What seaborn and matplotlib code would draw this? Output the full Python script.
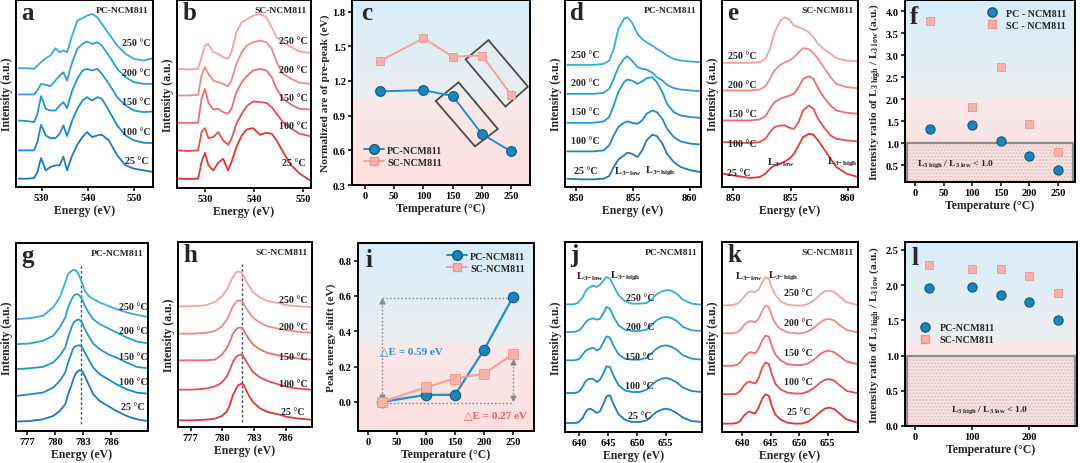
import numpy as np
import matplotlib
matplotlib.use("Agg")
import matplotlib.pyplot as plt
import matplotlib.transforms as mtrans
from matplotlib.lines import Line2D
from matplotlib.patches import Polygon, Rectangle
import seaborn as sns

# ---------------------------------------------------------------- data
temps = [25, 100, 150, 200, 250]
temp_labels = ['25 °C', '100 °C', '150 °C', '200 °C', '250 °C']

# (a) O K-edge, PC-NCM811 (stacked intensity, a.u.), rows = temps
o_pc_energy = [525.1, 526.9, 528.4, 529.1, 529.9, 530.9, 531.9, 533.0, 533.9, 534.7, 535.5, 536.6,
               537.7, 538.8, 539.8, 540.9, 542.0, 543.0, 544.5, 546.3, 548.1, 549.9, 552.0, 554.0]
o_pc_int = [
    [25, 25, 27, 45, 87, 50, 60, 65, 65, 91, 50, 95, 127, 150, 165, 150, 155, 157, 140, 95, 65, 55, 50, 45],
    [110, 110, 110, 135, 187, 155, 147, 147, 160, 185, 153, 200, 235, 260, 270, 260, 270, 265, 230, 185, 155, 140, 133, 132],
    [200, 198, 195, 220, 273, 235, 230, 230, 245, 255, 237, 290, 325, 350, 355, 350, 355, 340, 310, 270, 245, 230, 225, 227],
    [278, 278, 278, 290, 310, 307, 303, 320, 335, 345, 320, 375, 415, 430, 437, 430, 435, 425, 395, 355, 330, 315, 310, 310],
    [357, 357, 355, 365, 375, 387, 395, 417, 405, 410, 405, 455, 500, 507, 515, 520, 510, 490, 460, 425, 400, 385, 380, 387],
]
# (b) O K-edge, SC-NCM811
o_sc_energy = [524.6, 526.6, 528.6, 529.3, 530.0, 530.7, 531.7, 532.7, 533.7, 534.7, 535.4, 536.4,
               537.5, 538.5, 539.8, 541.2, 542.5, 543.6, 544.6, 545.9, 547.6, 549.3, 551.4]
o_sc_int = [
    [28, 27, 28, 78, 106, 68, 53, 76, 88, 53, 78, 123, 158, 176, 180, 160, 166, 163, 143, 108, 68, 43, 23],
    [113, 111, 113, 168, 180, 150, 153, 168, 143, 130, 148, 193, 223, 246, 260, 258, 256, 243, 223, 198, 178, 163, 156],
    [196, 196, 196, 268, 298, 256, 236, 238, 228, 223, 238, 288, 318, 336, 353, 358, 353, 333, 298, 268, 250, 238, 236],
    [278, 278, 280, 338, 363, 343, 323, 318, 313, 306, 323, 373, 408, 428, 438, 443, 438, 418, 378, 343, 328, 316, 313],
    [358, 356, 358, 393, 428, 433, 408, 403, 393, 388, 408, 468, 498, 506, 518, 523, 513, 483, 453, 438, 423, 410, 406],
]
# (c) normalized pre-peak area
pc_prepeak = [1.11, 1.12, 1.07, 0.74, 0.59]
sc_prepeak = [1.37, 1.57, 1.41, 1.42, 1.08]
box1_corners = [(172, 1.386), (211, 1.553), (278.5, 1.151), (240, 0.978)]
box2_corners = [(121, 1.027), (160, 1.188), (227, 0.785), (188, 0.634)]

# (d) Ni L-edge, PC
ni_pc_energy = [849.2, 850.4, 851.5, 852.4, 852.9, 853.3, 853.7, 854.2, 854.5, 854.9, 855.4,
                855.8, 856.2, 856.7, 857.1, 857.6, 858.0, 858.6, 859.2, 860.1, 860.9]
ni_pc_int = [
    [25, 23, 23, 25, 33, 60, 82, 95, 103, 100, 90, 110, 140, 157, 153, 130, 100, 75, 60, 50, 45],
    [107, 107, 107, 110, 125, 155, 180, 193, 197, 193, 190, 200, 220, 230, 225, 205, 175, 150, 137, 130, 128],
    [193, 193, 193, 197, 210, 245, 285, 315, 323, 320, 310, 317, 327, 330, 315, 285, 250, 225, 215, 210, 208],
    [280, 280, 280, 283, 295, 325, 360, 385, 393, 380, 360, 355, 353, 343, 330, 320, 307, 297, 293, 290, 288],
    [367, 367, 367, 370, 380, 415, 475, 505, 510, 495, 460, 445, 435, 425, 415, 405, 395, 385, 380, 377, 375],
]
# (e) Ni L-edge, SC
ni_sc_energy = [849.1, 850.3, 851.5, 852.3, 852.8, 853.2, 853.6, 854.1, 854.5, 854.9, 855.3,
                855.7, 856.1, 856.6, 857.0, 857.4, 857.9, 858.5, 859.0, 859.9, 860.9]
ni_sc_int = [
    [40, 33, 27, 30, 40, 55, 65, 70, 77, 85, 100, 125, 150, 160, 157, 140, 115, 85, 60, 40, 30],
    [135, 133, 132, 135, 145, 165, 180, 185, 185, 178, 175, 195, 230, 245, 235, 205, 180, 155, 145, 140, 137],
    [200, 200, 200, 203, 213, 235, 255, 265, 270, 275, 280, 300, 325, 333, 325, 297, 270, 245, 230, 223, 220],
    [290, 290, 290, 293, 303, 325, 350, 367, 375, 380, 390, 405, 417, 415, 403, 385, 360, 330, 310, 300, 297],
    [373, 373, 373, 375, 385, 415, 465, 500, 510, 503, 485, 480, 475, 465, 450, 430, 415, 400, 387, 380, 378],
]
# (f) Ni L3 high/low ratio
pc_ni_ratio = [1.33, 1.41, 1.04, 0.70, 0.40]
sc_ni_ratio = [3.77, 1.83, 2.72, 1.43, 0.80]

# (g) Co L-edge, PC
co_pc_energy = [775.8, 777.3, 778.7, 779.8, 780.5, 781.1, 781.4, 781.8, 782.0, 782.3, 782.6,
                782.9, 783.2, 783.6, 784.1, 784.8, 785.7, 786.6, 787.7, 788.8, 789.9]
co_pc_int = [
    [28, 30, 35, 45, 60, 80, 110, 140, 158, 175, 182, 180, 165, 140, 110, 90, 75, 60, 45, 35, 30],
    [105, 110, 115, 130, 150, 175, 205, 235, 250, 255, 257, 252, 235, 215, 190, 170, 155, 140, 125, 115, 112],
    [185, 188, 192, 205, 225, 250, 280, 312, 325, 332, 334, 325, 305, 285, 262, 245, 230, 220, 205, 192, 188],
    [260, 262, 270, 285, 310, 340, 370, 395, 405, 410, 407, 395, 375, 355, 335, 320, 308, 295, 280, 268, 263],
    [335, 338, 345, 370, 400, 445, 470, 480, 483, 480, 465, 445, 420, 405, 395, 385, 375, 365, 355, 348, 342],
]
# (h) Co L-edge, SC
co_sc_energy = [775.8, 777.1, 778.4, 779.3, 779.9, 780.4, 780.7, 781.0, 781.3, 781.5, 781.8,
                782.0, 782.2, 782.5, 782.9, 783.6, 784.3, 785.3, 786.2, 787.3, 788.4]
co_sc_int = [
    [20, 20, 22, 25, 32, 45, 65, 95, 115, 125, 130, 128, 115, 95, 75, 55, 45, 38, 30, 25, 22],
    [112, 112, 115, 122, 132, 150, 170, 195, 210, 215, 217, 212, 200, 185, 165, 148, 138, 128, 120, 115, 112],
    [200, 200, 200, 202, 215, 235, 255, 280, 292, 298, 298, 292, 280, 265, 248, 232, 222, 215, 210, 205, 202],
    [280, 280, 282, 288, 300, 320, 340, 362, 375, 380, 378, 372, 360, 345, 328, 312, 302, 295, 290, 285, 283],
    [362, 362, 365, 375, 390, 410, 430, 450, 463, 467, 464, 455, 440, 425, 405, 388, 378, 372, 365, 362, 360],
]
co_pc_ref = 782.8
co_sc_ref = 781.9

# (i) peak energy shift
pc_shift = [0.0, 0.04, 0.04, 0.295, 0.595]
sc_shift = [0.0, 0.083, 0.132, 0.16, 0.27]

# (j) Mn L-edge, PC
mn_pc_energy = [637.7, 639.0, 639.7, 640.1, 640.6, 641.0, 641.4, 641.9, 642.4, 643.0, 643.6, 644.2,
                644.7, 645.3, 645.9, 646.8, 647.9, 649.1, 650.5, 651.7, 652.5, 653.4, 654.3, 655.0,
                655.8, 656.9, 658.0, 659.5, 661.2]
mn_pc_int = [
    [27, 27, 28, 33, 43, 57, 67, 70, 65, 57, 63, 85, 107, 110, 85, 53, 37, 30, 30, 35, 47, 60, 67, 70, 67, 57, 43, 33, 30],
    [117, 117, 119, 125, 137, 150, 157, 160, 159, 150, 157, 177, 197, 195, 170, 140, 125, 120, 120, 127, 140, 153, 160, 162, 159, 149, 133, 123, 120],
    [215, 215, 217, 222, 233, 242, 247, 250, 253, 245, 250, 270, 287, 283, 260, 233, 220, 217, 217, 223, 235, 250, 258, 260, 257, 247, 230, 220, 217],
    [300, 300, 303, 307, 317, 327, 335, 339, 341, 337, 340, 357, 375, 370, 347, 320, 307, 303, 303, 307, 320, 335, 343, 345, 343, 333, 315, 305, 303],
    [383, 383, 387, 395, 405, 420, 430, 435, 439, 435, 442, 455, 465, 460, 440, 410, 393, 385, 385, 387, 397, 413, 422, 425, 425, 415, 397, 385, 382],
]
# (k) Mn L-edge, SC
mn_sc_energy = [636.6, 638.3, 639.1, 639.7, 640.3, 640.9, 641.3, 641.7, 642.3, 642.9, 643.5, 644.1,
                644.7, 645.2, 645.8, 646.7, 647.9, 649.3, 650.5, 651.6, 652.7, 653.7, 654.5, 655.3,
                656.2, 657.2, 658.3, 660.2]
mn_sc_int = [
    [25, 25, 27, 33, 48, 58, 61, 58, 55, 73, 98, 113, 108, 78, 53, 38, 28, 25, 25, 31, 45, 60, 70, 73, 68, 53, 38, 28],
    [113, 113, 115, 123, 138, 148, 151, 148, 145, 161, 191, 208, 203, 173, 145, 128, 118, 115, 115, 121, 133, 148, 156, 158, 153, 138, 123, 116],
    [198, 198, 201, 208, 223, 233, 238, 238, 235, 248, 273, 288, 285, 258, 233, 215, 203, 200, 200, 205, 218, 233, 241, 243, 238, 225, 211, 203],
    [295, 295, 298, 305, 318, 328, 331, 331, 328, 338, 361, 378, 373, 348, 325, 308, 298, 295, 295, 301, 313, 328, 336, 338, 333, 318, 305, 298],
    [378, 380, 383, 391, 403, 415, 420, 420, 418, 425, 445, 463, 458, 433, 411, 391, 381, 378, 378, 383, 395, 411, 421, 423, 418, 403, 388, 380],
]
# (l) Mn L3 high/low ratio
pc_mn_ratio = [1.96, 1.97, 1.865, 1.757, 1.50]
sc_mn_ratio = [2.28, 2.23, 2.23, 2.13, 1.885]

# ---------------------------------------------------------------- style
sns.set_theme(style="ticks")
plt.rcParams['font.family'] = ['Liberation Serif', 'DejaVu Serif']
plt.rcParams['font.weight'] = 'bold'
plt.rcParams['axes.labelweight'] = 'bold'
plt.rcParams['mathtext.fontset'] = 'custom'
plt.rcParams['mathtext.rm'] = 'Liberation Serif:bold'
plt.rcParams['mathtext.bf'] = 'Liberation Serif:bold'
plt.rcParams['mathtext.it'] = 'Liberation Serif:bold:italic'
plt.rcParams['axes.linewidth'] = 1.4
plt.rcParams['axes.edgecolor'] = 'black'

PC_COLORS = ['#1a7cc4', '#1b8bd2', '#1f98da', '#27a2e0', '#36ace6']
SC_COLORS = ['#e6343a', '#ec4d50', '#f06c6c', '#f48888', '#f6a2a2']
PC_MARK, PC_EDGE, PC_LINE = '#1886ba', '#0b5a82', '#1a8fd6'
SC_MARK, SC_EDGE, SC_LINE = '#f7b2ac', '#f0958d', '#f4a09a'

fig = plt.figure(figsize=(10.8, 4.64), dpi=100)


def add_ax(l, t, r, b):
    return fig.add_axes([l / 1080, 1 - b / 464, (r - l) / 1080, (b - t) / 464])


def ticks(ax):
    ax.tick_params(axis='both', labelsize=7.5, length=3, width=1.1, direction='out', pad=1.5, colors='black')


def letter(ax, s, x=0.04, y=0.9):
    ax.text(x, y, s, transform=ax.transAxes, fontsize=18, fontweight='bold', va='baseline', ha='left', zorder=10)


def spectra(ax, energy, curves, colors, labels, lab_x, lab_y, xlim, ylim, xticks, tag, let):
    for vals, col in zip(curves, colors):
        sns.lineplot(x=energy, y=vals, ax=ax, color=col, lw=1.3, sort=False, estimator=None)
    for lab, lx, ly in zip(labels, lab_x, lab_y):
        ax.text(lx, ly, lab, fontsize=7.2, ha='center', va='center')
    ax.set_xlim(*xlim)
    ax.set_ylim(*ylim)
    ax.set_xticks(xticks)
    ax.set_yticks([])
    ticks(ax)
    ax.set_xlabel('Energy (eV)', fontsize=8.5, labelpad=1)
    ax.set_ylabel('Intensity (a.u.)', fontsize=8.5, labelpad=2)
    ax.text(0.965, 0.935, tag, transform=ax.transAxes, fontsize=6.8, ha='right', va='baseline')
    letter(ax, let)


def gradient_bg(ax, split=0.46):
    n = 300
    ys = np.linspace(1, 0, n)
    top = np.array([0.84, 0.93, 0.98]); mid_hi = np.array([0.93, 0.93, 0.94])
    mid_lo = np.array([0.98, 0.91, 0.915]); bot = np.array([0.99, 0.875, 0.875])
    img = np.zeros((n, 1, 3))
    for i, yy in enumerate(ys):
        if yy >= split:
            t = (1 - yy) / (1 - split)
            img[i, 0] = top * (1 - t) + mid_hi * t
        else:
            t = (split - yy) / split
            img[i, 0] = mid_lo * (1 - t) + bot * t
    ax.imshow(img, extent=[0, 1, 0, 1], transform=ax.transAxes, aspect='auto', zorder=0,
              interpolation='bilinear')


def low_box(ax, ybot, text, tx, ty):
    bl = mtrans.blended_transform_factory(ax.transAxes, ax.transData)
    ax.add_patch(Rectangle((0.012, ybot), 0.976, 1.0 - ybot, transform=bl, facecolor='#f9e2e2',
                           edgecolor='#e2c4c4', hatch='.....', lw=0, zorder=1))
    ax.add_patch(Rectangle((0.012, ybot), 0.976, 1.0 - ybot, transform=bl, fill=False,
                           edgecolor='#8c8c8c', lw=1.6, zorder=2))
    ax.text(tx, ty, text, fontsize=6.8, ha='center', va='center', zorder=5)


def temp_axis(ax, xlim, ylim, yticks, yfmt, ylabel, xticks=(0, 50, 100, 150, 200, 250)):
    ax.set_xlim(*xlim)
    ax.set_ylim(*ylim)
    ax.set_xticks(list(xticks))
    ax.set_yticks(yticks)
    ax.set_yticklabels([yfmt % v for v in yticks])
    ticks(ax)
    ax.set_xlabel('Temperature (°C)', fontsize=8.5, labelpad=1)
    ax.set_ylabel(ylabel, fontsize=8.2, labelpad=2)


ratio_label = r'Intensity ratio of L$_{\mathbf{3\ high}}$ / L$_{\mathbf{3\ low}}$ (a.u.)'
box_text = r'L$_{\mathbf{3\ high}}$ / L$_{\mathbf{3\ low}}$ < 1.0'
l3low = r'L$_{\mathbf{3\!-\!low}}$'
l3high = r'L$_{\mathbf{3\!-\!high}}$'

# ---------------------------------------------------------------- (a)
ax = add_ax(16, 1, 153, 188)
spectra(ax, o_pc_energy, o_pc_int, PC_COLORS, temp_labels, [550.5] * 5, [80, 167, 257, 343, 433],
        (524.5, 554), (0, 562), [530, 540, 550], 'PC-NCM811', 'a')
# ---------------------------------------------------------------- (b)
ax = add_ax(177, 1, 311, 189)
spectra(ax, o_sc_energy, o_sc_int, SC_COLORS, temp_labels, [548.0] * 5, [78, 188, 271, 356, 443],
        (524.3, 551.6), (0, 565), [530, 540, 550], 'SC-NCM811', 'b')

# ---------------------------------------------------------------- (c)
ax = add_ax(352, 1, 530, 186)
gradient_bg(ax)
sns.lineplot(x=temps, y=pc_prepeak, ax=ax, color=PC_LINE, lw=1.4, marker='o', markersize=7,
             markerfacecolor=PC_MARK, markeredgecolor=PC_EDGE, markeredgewidth=0.8, zorder=4)
sns.lineplot(x=temps, y=sc_prepeak, ax=ax, color=SC_LINE, lw=1.4, marker='s', markersize=6,
             markerfacecolor=SC_MARK, markeredgecolor=SC_EDGE, markeredgewidth=0.6, zorder=4)
for corners in (box1_corners, box2_corners):
    ax.add_patch(Polygon(corners, closed=True, fill=False, edgecolor='#4a4a4a', lw=1.3, zorder=3))
temp_axis(ax, (-22, 282), (0.3, 1.9), [0.3, 0.6, 0.9, 1.2, 1.5, 1.8], '%.1f',
          'Normalized are of pre-peak (eV)')
h_pc = Line2D([], [], color=PC_LINE, lw=1.4, marker='o', ms=7, mfc=PC_MARK, mec=PC_EDGE)
h_sc = Line2D([], [], color=SC_LINE, lw=1.4, marker='s', ms=6, mfc=SC_MARK, mec=SC_EDGE)
ax.legend([h_pc, h_sc], ['PC-NCM811', 'SC-NCM811'], loc='lower left', bbox_to_anchor=(0.03, 0.06),
          frameon=False, fontsize=7.2, handlelength=2.0, handletextpad=0.3, borderpad=0.2, labelspacing=0.3)
letter(ax, 'c', x=0.05)

# ---------------------------------------------------------------- (d)
ax = add_ax(565, 1, 701, 188)
spectra(ax, ni_pc_energy, ni_pc_int, PC_COLORS, temp_labels, [850.8] * 5, [50, 140, 227, 313, 397],
        (849.0, 861.0), (0, 562), [850, 855, 860], 'PC-NCM811', 'd')
ax.text(854.6, 50, l3low, fontsize=7.5, ha='center', va='center')
ax.text(857.4, 50, l3high, fontsize=7.5, ha='center', va='center')
# ---------------------------------------------------------------- (e)
ax = add_ax(722, 1, 858, 188)
spectra(ax, ni_sc_energy, ni_sc_int, SC_COLORS, temp_labels, [850.5, 850.8, 850.8, 850.8, 850.8],
        [45, 132, 220, 307, 395], (849.0, 860.9), (0, 562), [850, 855, 860], 'SC-NCM811', 'e')
ax.text(854.2, 77, l3low, fontsize=7.5, ha='center', va='center')
ax.text(859.5, 77, l3high, fontsize=7.5, ha='center', va='center')

# ---------------------------------------------------------------- (f)
ax = add_ax(905, 1, 1075, 183)
gradient_bg(ax)
low_box(ax, 0.12, box_text, 70, 0.55)
sns.scatterplot(x=temps, y=pc_ni_ratio, ax=ax, marker='o', s=44, color=PC_MARK, edgecolor=PC_EDGE,
                linewidth=0.8, zorder=4)
sns.scatterplot(x=temps, y=sc_ni_ratio, ax=ax, marker='s', s=32, color=SC_MARK, edgecolor=SC_EDGE,
                linewidth=0.6, zorder=4)
temp_axis(ax, (-18, 280), (0.12, 4.25), [0.5, 1.0, 1.5, 2.0, 2.5, 3.0, 3.5, 4.0], '%.1f', ratio_label)
m_pc = Line2D([], [], ls='none', marker='o', ms=6.6, mfc=PC_MARK, mec=PC_EDGE)
m_sc = Line2D([], [], ls='none', marker='s', ms=5.8, mfc=SC_MARK, mec=SC_EDGE)
ax.legend([m_pc, m_sc], ['PC - NCM811', 'SC - NCM811'], loc='upper right', bbox_to_anchor=(0.99, 0.99),
          frameon=False, fontsize=7.2, handletextpad=0.4, borderpad=0.2, labelspacing=0.3)
letter(ax, 'f', x=0.03, y=0.875)

# ---------------------------------------------------------------- (g)
ax = add_ax(16, 244, 148, 432)
ax.vlines(co_pc_ref, 20, 500, colors='#555555', linestyles=(0, (2, 1.5)), lw=1.0, zorder=1)
spectra(ax, co_pc_energy, co_pc_int, PC_COLORS, temp_labels, [788.4] * 5, [72, 148, 222, 300, 372],
        (775.8, 790.0), (0, 563), [777, 780, 783, 786], 'PC-NCM811', 'g')
# ---------------------------------------------------------------- (h)
ax = add_ax(178, 243, 312, 428)
ax.vlines(co_sc_ref, 15, 490, colors='#555555', linestyles=(0, (2, 1.5)), lw=1.0, zorder=1)
spectra(ax, co_sc_energy, co_sc_int, SC_COLORS, temp_labels, [786.7] * 5, [45, 130, 210, 302, 382],
        (775.8, 788.5), (0, 555), [777, 780, 783, 786], 'SC-NCM811', 'h')

# ---------------------------------------------------------------- (i)
ax = add_ax(358, 244, 534, 432)
gradient_bg(ax)
guide = dict(color='#8a8a8a', lw=1.0, ls=(0, (1.2, 1.5)), zorder=2)
ax.plot([25, 250], [0.59, 0.59], **guide)
ax.plot([25, 250], [-0.005, -0.005], **guide)
ax.plot([25, 25], [0.03, 0.57], **guide)
ax.plot([250, 250], [0.02, 0.225], **guide)
for (xa, ya, mk) in [(25, 0.57, '^'), (25, 0.03, 'v'), (250, 0.225, '^'), (250, 0.02, 'v')]:
    ax.plot(xa, ya, marker=mk, color='#8a8a8a', ms=3.5, zorder=2)
sns.lineplot(x=temps, y=pc_shift, ax=ax, color=PC_LINE, lw=1.6, marker='o', markersize=7.5,
             markerfacecolor=PC_MARK, markeredgecolor=PC_EDGE, markeredgewidth=0.8, zorder=4)
sns.lineplot(x=temps, y=sc_shift, ax=ax, color=SC_LINE, lw=1.6, marker='s', markersize=6.5,
             markerfacecolor=SC_MARK, markeredgecolor=SC_EDGE, markeredgewidth=0.6, zorder=4)
ax.text(75, 0.29, '△E = 0.59 eV', color='#2a8fd0', fontsize=8, ha='center', va='center')
ax.text(219, -0.072, '△E = 0.27 eV', color='#f0605a', fontsize=8, ha='center', va='center')
temp_axis(ax, (-17, 286), (-0.165, 0.9), [0.0, 0.2, 0.4, 0.6, 0.8], '%.1f', 'Peak energy shift (eV)')
ax.legend([h_pc, h_sc], ['PC-NCM811', 'SC-NCM811'], loc='upper right', bbox_to_anchor=(0.99, 0.99),
          frameon=False, fontsize=7.2, handlelength=2.0, handletextpad=0.3, borderpad=0.2, labelspacing=0.3)
letter(ax, 'i', x=0.04, y=0.878)

# ---------------------------------------------------------------- (j)
ax = add_ax(565, 243, 702, 433)
spectra(ax, mn_pc_energy, mn_pc_int, PC_COLORS, temp_labels, [650.5] * 5, [50, 138, 225, 315, 403],
        (637.5, 661.3), (0, 570), [640, 645, 650, 655], 'PC-NCM811', 'j')
ax.text(641.9, 470, l3low, fontsize=7.5, ha='center', va='center')
ax.text(647.9, 470, l3high, fontsize=7.5, ha='center', va='center')
# ---------------------------------------------------------------- (k)
ax = add_ax(722, 243, 858, 433)
spectra(ax, mn_sc_energy, mn_sc_int, SC_COLORS, temp_labels, [649.9] * 5, [61, 151, 238, 326, 418],
        (636.5, 660.3), (0, 568), [640, 645, 650, 655], 'SC-NCM811', 'k')
ax.text(641.2, 468, l3low, fontsize=7.5, ha='center', va='center')
ax.text(647.3, 468, l3high, fontsize=7.5, ha='center', va='center')

# ---------------------------------------------------------------- (l)
ax = add_ax(905, 243, 1077, 427)
gradient_bg(ax)
low_box(ax, 0.0, box_text, 131, 0.24)
sns.scatterplot(x=temps, y=pc_mn_ratio, ax=ax, marker='o', s=44, color=PC_MARK, edgecolor=PC_EDGE,
                linewidth=0.8, zorder=4)
sns.scatterplot(x=temps, y=sc_mn_ratio, ax=ax, marker='s', s=32, color=SC_MARK, edgecolor=SC_EDGE,
                linewidth=0.6, zorder=4)
temp_axis(ax, (-17.5, 284), (0, 2.61), [0.0, 0.5, 1.0, 1.5, 2.0, 2.5], '%.1f', ratio_label,
          xticks=(0, 100, 200))
ax.legend([m_pc, m_sc], ['PC-NCM811', 'SC-NCM811'], loc='center left', bbox_to_anchor=(0.02, 0.50),
          frameon=False, fontsize=7.2, handletextpad=0.4, borderpad=0.2, labelspacing=0.3)
letter(ax, 'l', x=0.04, y=0.878)

fig.savefig('out.png', dpi=100)
